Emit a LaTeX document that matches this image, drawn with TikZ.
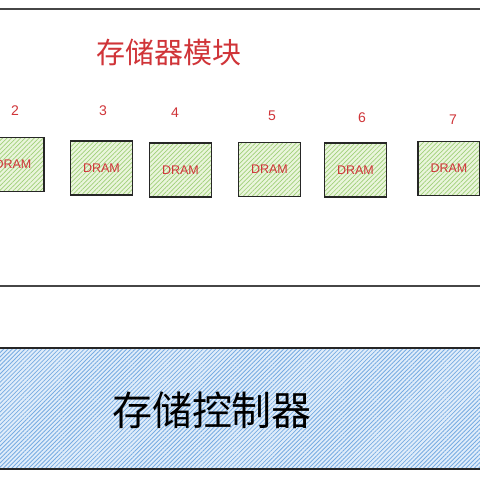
\documentclass[tikz,border=0pt]{standalone}
\usepackage{fontspec}
\setmainfont{Liberation Sans}
\newfontfamily\cjk{Noto Sans CJK SC}
\usetikzlibrary{patterns.meta}
\definecolor{myred}{RGB}{208,52,56}
\definecolor{greenfill}{RGB}{234,245,220}
\definecolor{greenline}{RGB}{160,208,120}
\definecolor{bluefill}{RGB}{224,237,250}
\definecolor{blueline}{RGB}{120,172,226}
\definecolor{frameline}{RGB}{70,70,70}
\tikzset{
  x=1pt,y=1pt,
  dram/.style={draw=black!85,line width=1.4pt,minimum width=62pt,minimum height=54pt,inner sep=0pt,
    preaction={fill=greenfill},
    preaction={pattern={Lines[angle=45,distance=3.2pt,line width=0.7pt]},pattern color=greenline},
    text=myred,font=\fontsize{12.5}{14}\selectfont},
  num/.style={text=myred,font=\fontsize{14}{16}\selectfont,inner sep=0pt},
  ctrl/.style={draw=black!85,line width=1.1pt,minimum width=500pt,minimum height=121pt,inner sep=0pt,
    preaction={fill=bluefill},
    preaction={pattern={Lines[angle=45,distance=3pt,line width=0.8pt]},pattern color=blueline}},
  module/.style={draw=frameline,line width=1.3pt,minimum width=500pt,minimum height=277pt,inner sep=0pt}
}
\begin{document}
\begin{tikzpicture}
\useasboundingbox (0,0) rectangle (480,-480);
\fill[white] (0,0) rectangle (480,-480);
\clip (0,0) rectangle (480,-480);
\node[module] (mod) at (240,-147.5) {};
\node[text=myred,font=\cjk\fontsize{29}{33}\selectfont,inner sep=0pt] (title) at (169,-52) {存储器模块};
\node[num] (n2) at (15,-111) {2};
\node[num] (n3) at (103,-111) {3};
\node[num] (n4) at (175,-113) {4};
\node[num] (n5) at (272,-116) {5};
\node[num] (n6) at (362,-118) {6};
\node[num] (n7) at (453,-120) {7};
\node[dram] (d2) at (13,-164.5) {DRAM};
\node[dram] (d3) at (101.5,-168) {DRAM};
\node[dram] (d4) at (180.5,-170) {DRAM};
\node[dram] (d5) at (269.5,-169.5) {DRAM};
\node[dram] (d6) at (355.5,-170) {DRAM};
\node[dram] (d7) at (449,-168.5) {DRAM};
\node[ctrl] (ctrl) at (240,-408.5) {};
\node[font=\cjk\fontsize{40}{44}\selectfont,inner sep=0pt] (ctrltext) at (212,-410) {存储控制器};
\end{tikzpicture}
\end{document}
